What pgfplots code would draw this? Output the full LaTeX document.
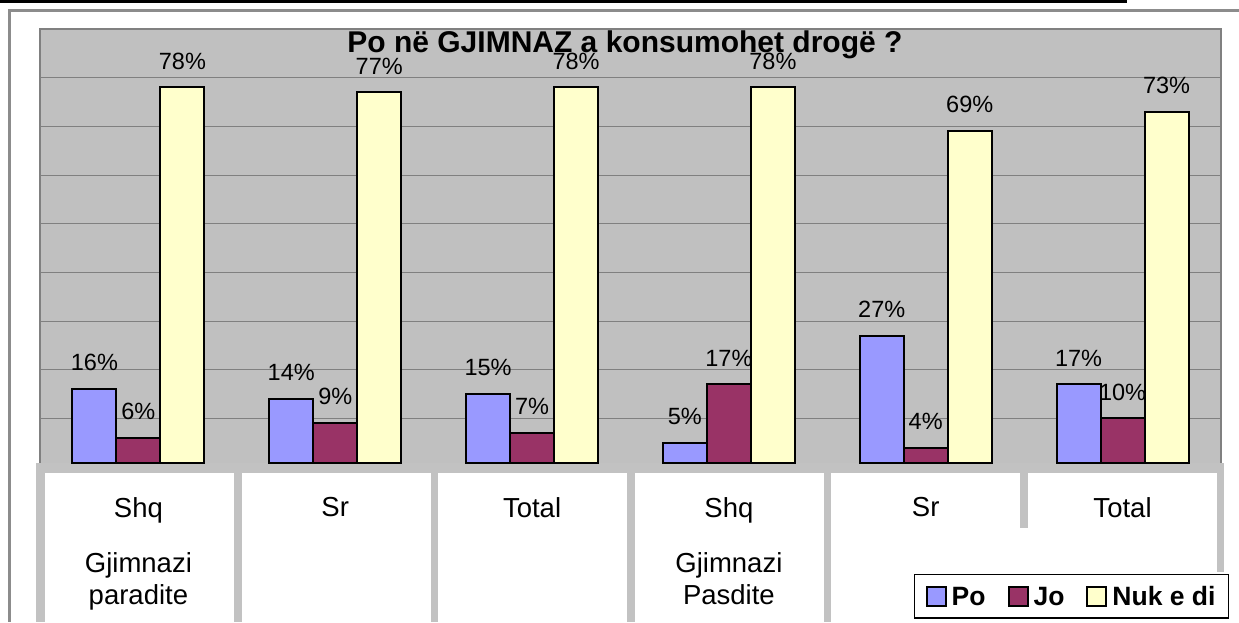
\documentclass[border=0pt]{standalone}
\usepackage{graphicx}
\usepackage{fontspec}
\setmainfont{Liberation Sans}
\usepackage{pgfplots}
\pgfplotsset{compat=1.18}
\definecolor{po}{HTML}{9999FF}
\definecolor{jo}{HTML}{993366}
\definecolor{nuk}{HTML}{FFFFCC}
\definecolor{plotbg}{HTML}{C0C0C0}
\definecolor{bandc}{HTML}{C2C2C2}
\definecolor{gridc}{HTML}{808080}
\definecolor{framec}{HTML}{8C8C8C}
\begin{document}
\begin{tikzpicture}
\useasboundingbox (0pt,0pt) rectangle (1239pt,-622pt);
\begin{scope}[x=1pt,y=-1pt]
  % top black rule and outer frame
  \fill[black] (0,0) rectangle (1127,2.5);
  \fill[framec] (8,9) rectangle (1239,12);
  \fill[framec] (8,9) rectangle (11,622);
  % plot area
  \fill[plotbg] (40,29) rectangle (1221,463);
  \draw[gridc, line width=2.5pt] (40,470) -- (40,29) -- (1221,29) -- (1221,470);
  % category band
  \fill[bandc] (36,463) rectangle (1224,622);
  \foreach \l in {45,241.5,438,635,831}{
    \fill[white] (\l,473) rectangle ({\l+189},622);
  }
  \fill[white] (1028,473) rectangle (1217,622);
  \fill[white] (1019,528) rectangle (1029,622);
  \fill[white] (1216,572) rectangle (1226,622);
\end{scope}
\begin{axis}[
  at={(40pt,-463pt)}, anchor=south west,
  scale only axis, width=1181pt, height=434pt,
  xmin=-0.5, xmax=5.5, ymin=0.822, ymax=90,
  ybar=0pt, bar width=44pt,
  axis line style={draw=none},
  major tick length=0pt,
  xtick={0,1,2,3,4,5},
  xticklabels={{Shq\\[24pt]Gjimnazi\\paradite},Sr,Total,{Shq\\[24pt]Gjimnazi\\Pasdite},Sr,Total},
  xticklabel style={align=center, anchor=north, inner sep=0pt, yshift=-34pt,
    font=\fontsize{27.5}{31.5}\selectfont},
  ytick={10,20,30,40,50,60,70,80}, yticklabels={},
  ymajorgrids, grid style={draw=gridc, line width=1pt},
  /pgf/number format/assume math mode=true,
  nodes near coords={\pgfmathprintnumber{\pgfplotspointmeta}\%},
  every node near coord/.append style={font=\fontsize{23.5}{28}\selectfont, inner sep=0pt, yshift=17pt, text=black},
  title={Po në GJIMNAZ a konsumohet drogë ?},
  title style={font=\bfseries\fontsize{30}{35}\selectfont, at={(axis description cs:0.4953,0.9332)}, anchor=base, inner sep=0pt},
  legend image code/.code={\draw[#1] (0pt,-9.5pt) rectangle (19pt,9.5pt);},
  legend columns=3,
  legend style={at={(axis description cs:0.7401,-0.2558)}, anchor=north west,
    draw=black, line width=1.3pt, fill=white,
    inner xsep=11pt, inner ysep=10pt,
    nodes={inner sep=2pt, text depth=0pt},
    font=\bfseries\fontsize{26.5}{31}\selectfont,
    /tikz/every odd column/.append style={column sep=3pt},
    /tikz/every even column/.append style={column sep=20pt}},
]
\addplot[fill=po, draw=black, line width=2pt] coordinates {(0,16) (1,14) (2,15) (3,5) (4,27) (5,17)};
\addplot[fill=jo, draw=black, line width=2pt] coordinates {(0,6) (1,9) (2,7) (3,17) (4,4) (5,10)};
\addplot[fill=nuk, draw=black, line width=2pt] coordinates {(0,78) (1,77) (2,78) (3,78) (4,69) (5,73)};
\legend{Po,Jo,Nuk e di}
\end{axis}
\end{tikzpicture}
\end{document}
